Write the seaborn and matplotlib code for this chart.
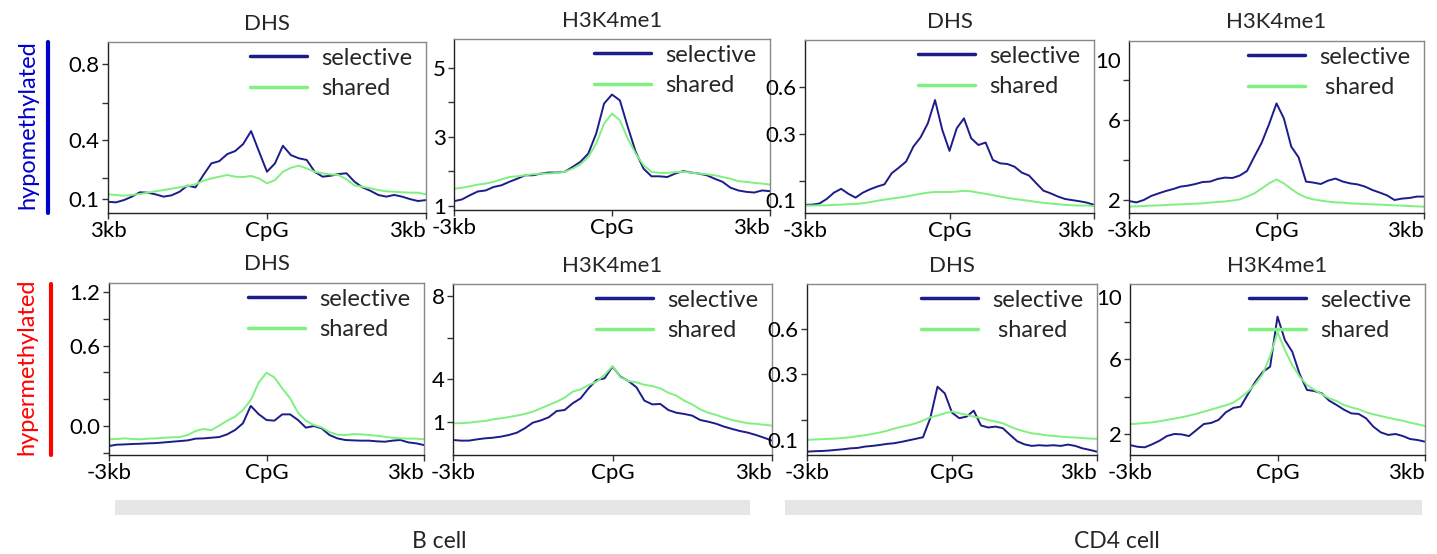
import numpy as np
import pandas as pd
import matplotlib
matplotlib.use("Agg")
import matplotlib.pyplot as plt
from matplotlib.lines import Line2D
from matplotlib.patches import Rectangle
import seaborn as sns

sns.set_style("ticks")
plt.rcParams["font.family"] = ["Lato", "DejaVu Sans"]

W, H = 1437, 554

# genomic position around CpG (bp), 41 bins from -3kb to +3kb
positions = np.linspace(-3000, 3000, 41)

# ---- B cell, hypomethylated ----
b_hypo_dhs_selective = [0.075, 0.072, 0.084, 0.102, 0.125, 0.123, 0.114, 0.102, 0.109, 0.128,
                        0.160, 0.151, 0.216, 0.277, 0.289, 0.326, 0.342, 0.379, 0.447, 0.339,
                        0.233, 0.277, 0.370, 0.321, 0.304, 0.295, 0.233, 0.207, 0.212, 0.221,
                        0.225, 0.181, 0.151, 0.133, 0.111, 0.102, 0.111, 0.102, 0.089, 0.079, 0.084]
b_hypo_dhs_shared = [0.114, 0.111, 0.107, 0.111, 0.116, 0.123, 0.130, 0.137, 0.144, 0.151,
                     0.158, 0.167, 0.186, 0.198, 0.207, 0.216, 0.207, 0.205, 0.211, 0.198,
                     0.172, 0.189, 0.233, 0.254, 0.265, 0.251, 0.233, 0.225, 0.219, 0.216,
                     0.193, 0.161, 0.154, 0.146, 0.137, 0.130, 0.128, 0.125, 0.123, 0.123, 0.114]
b_hypo_h3k4_selective = [1.14, 1.19, 1.31, 1.42, 1.45, 1.55, 1.60, 1.70, 1.79, 1.89,
                         1.89, 1.94, 1.97, 1.97, 1.99, 2.13, 2.28, 2.52, 3.10, 3.97,
                         4.23, 4.06, 3.29, 2.57, 2.08, 1.86, 1.86, 1.84, 1.94, 2.01,
                         1.97, 1.94, 1.89, 1.79, 1.70, 1.53, 1.45, 1.41, 1.39, 1.45, 1.43]
b_hypo_h3k4_shared = [1.50, 1.53, 1.57, 1.62, 1.65, 1.70, 1.77, 1.84, 1.86, 1.89,
                      1.92, 1.94, 1.94, 1.96, 1.99, 2.08, 2.21, 2.42, 2.81, 3.39,
                      3.68, 3.48, 2.95, 2.52, 2.18, 1.99, 1.96, 1.96, 1.98, 1.99,
                      1.97, 1.94, 1.92, 1.89, 1.84, 1.79, 1.72, 1.70, 1.67, 1.65, 1.62]

# ---- CD4 cell, hypomethylated ----
cd4_hypo_dhs_selective = [0.078, 0.079, 0.084, 0.104, 0.132, 0.149, 0.127, 0.110, 0.132, 0.147,
                          0.159, 0.169, 0.218, 0.243, 0.270, 0.336, 0.377, 0.439, 0.542, 0.410,
                          0.317, 0.417, 0.461, 0.373, 0.343, 0.354, 0.277, 0.262, 0.259, 0.247,
                          0.221, 0.208, 0.174, 0.141, 0.129, 0.115, 0.104, 0.099, 0.094, 0.088, 0.078]
cd4_hypo_dhs_shared = [0.075, 0.075, 0.076, 0.076, 0.078, 0.079, 0.081, 0.082, 0.085, 0.090,
                       0.096, 0.101, 0.106, 0.110, 0.115, 0.121, 0.127, 0.132, 0.135, 0.135,
                       0.135, 0.137, 0.140, 0.138, 0.132, 0.127, 0.121, 0.115, 0.109, 0.104,
                       0.100, 0.096, 0.091, 0.087, 0.084, 0.081, 0.078, 0.076, 0.075, 0.075, 0.073]
cd4_hypo_h3k4_selective = [1.95, 1.88, 2.00, 2.20, 2.33, 2.45, 2.55, 2.67, 2.72, 2.80,
                           2.90, 2.92, 3.05, 3.12, 3.10, 3.22, 3.45, 4.17, 4.87, 5.80,
                           6.83, 6.08, 4.67, 4.13, 2.92, 2.87, 2.80, 2.97, 3.07, 2.92,
                           2.83, 2.78, 2.67, 2.50, 2.37, 2.23, 2.00, 2.07, 2.10, 2.17, 2.17]
cd4_hypo_h3k4_shared = [1.67, 1.68, 1.70, 1.72, 1.73, 1.75, 1.77, 1.78, 1.80, 1.82,
                        1.83, 1.87, 1.90, 1.93, 1.97, 2.03, 2.17, 2.33, 2.58, 2.83,
                        3.03, 2.83, 2.55, 2.30, 2.13, 2.03, 1.97, 1.92, 1.88, 1.87,
                        1.83, 1.82, 1.80, 1.78, 1.77, 1.75, 1.73, 1.72, 1.70, 1.68, 1.67]

# ---- B cell, hypermethylated ----
b_hyper_dhs_selective = [0.051, 0.061, 0.063, 0.066, 0.068, 0.071, 0.073, 0.078, 0.083, 0.088,
                         0.093, 0.106, 0.108, 0.113, 0.118, 0.138, 0.170, 0.220, 0.350, 0.289,
                         0.245, 0.240, 0.287, 0.287, 0.245, 0.188, 0.200, 0.183, 0.133, 0.108,
                         0.096, 0.093, 0.091, 0.091, 0.086, 0.083, 0.091, 0.096, 0.078, 0.071, 0.058]
b_hyper_dhs_shared = [0.101, 0.103, 0.108, 0.103, 0.101, 0.106, 0.108, 0.113, 0.116, 0.118,
                      0.133, 0.163, 0.178, 0.170, 0.203, 0.240, 0.270, 0.319, 0.394, 0.523,
                      0.598, 0.563, 0.481, 0.407, 0.299, 0.240, 0.208, 0.190, 0.155, 0.135,
                      0.133, 0.140, 0.138, 0.133, 0.128, 0.120, 0.113, 0.108, 0.106, 0.106, 0.101]
b_hyper_h3k4_selective = [1.09, 1.06, 1.06, 1.12, 1.17, 1.20, 1.25, 1.33, 1.44, 1.65,
                          1.92, 2.03, 2.18, 2.48, 2.53, 2.85, 3.09, 3.57, 3.97, 4.05,
                          4.61, 4.13, 3.92, 3.62, 2.98, 2.80, 2.82, 2.53, 2.40, 2.34,
                          2.26, 2.05, 1.97, 1.87, 1.73, 1.62, 1.52, 1.44, 1.33, 1.20, 1.06]
b_hyper_h3k4_shared = [1.89, 1.90, 1.92, 1.97, 2.00, 2.08, 2.13, 2.19, 2.26, 2.34,
                       2.45, 2.61, 2.77, 2.93, 3.12, 3.41, 3.52, 3.73, 3.89, 4.21,
                       4.64, 4.10, 3.92, 3.86, 3.74, 3.68, 3.57, 3.36, 3.22, 2.98,
                       2.80, 2.56, 2.40, 2.29, 2.16, 2.05, 1.97, 1.89, 1.87, 1.82, 1.78]

# ---- CD4 cell, hypermethylated ----
cd4_hyper_dhs_selective = [0.047, 0.049, 0.050, 0.052, 0.055, 0.058, 0.062, 0.064, 0.070, 0.073,
                           0.077, 0.082, 0.085, 0.091, 0.098, 0.105, 0.112, 0.198, 0.340, 0.310,
                           0.223, 0.198, 0.205, 0.232, 0.165, 0.156, 0.160, 0.153, 0.123, 0.094,
                           0.080, 0.073, 0.076, 0.074, 0.076, 0.073, 0.079, 0.073, 0.062, 0.055, 0.047]
cd4_hyper_dhs_shared = [0.100, 0.102, 0.103, 0.105, 0.106, 0.109, 0.112, 0.117, 0.121, 0.127,
                        0.133, 0.141, 0.151, 0.159, 0.166, 0.175, 0.187, 0.202, 0.210, 0.220,
                        0.228, 0.220, 0.213, 0.205, 0.199, 0.190, 0.183, 0.175, 0.160, 0.148,
                        0.138, 0.130, 0.126, 0.121, 0.118, 0.115, 0.112, 0.111, 0.108, 0.106, 0.105]
cd4_hyper_h3k4_selective = [1.41, 1.32, 1.29, 1.45, 1.64, 1.89, 2.00, 1.98, 1.89, 2.21,
                            2.53, 2.59, 2.75, 3.16, 3.39, 3.46, 4.13, 4.79, 5.31, 5.59,
                            8.26, 7.01, 6.39, 5.20, 4.35, 4.29, 4.17, 3.78, 3.55, 3.30,
                            3.10, 3.07, 2.84, 2.39, 2.09, 1.95, 2.00, 1.89, 1.73, 1.68, 1.59]
cd4_hyper_h3k4_shared = [2.53, 2.55, 2.59, 2.62, 2.68, 2.75, 2.82, 2.89, 2.98, 3.08,
                         3.19, 3.30, 3.42, 3.53, 3.67, 3.94, 4.26, 4.67, 5.20, 6.16,
                         7.42, 6.48, 5.68, 5.06, 4.61, 4.35, 4.13, 3.90, 3.76, 3.55,
                         3.42, 3.32, 3.16, 3.05, 2.96, 2.87, 2.78, 2.71, 2.60, 2.52, 2.43]

panel_titles = ["DHS", "H3K4me1", "DHS", "H3K4me1"]
row_labels = ["hypomethylated", "hypermethylated"]
cell_labels = ["B cell", "CD4 cell"]

BLUE = "#1c1c8a"
GREEN = "#80f080"

panels = [
    dict(title=panel_titles[0], sel=b_hypo_dhs_selective, sh=b_hypo_dhs_shared,
         box=(108, 42, 426, 213), ylim=(0.016, 0.916),
         major=[0.0895, 0.4, 0.8], labels=["0.1", "0.4", "0.8"], minor=[0.2, 0.595], hide=[],
         xlabels=["3kb", "CpG", "3kb"], shlab="shared"),
    dict(title=panel_titles[1], sel=b_hypo_h3k4_selective, sh=b_hypo_h3k4_shared,
         box=(454, 39, 770, 210), ylim=(0.884, 5.84),
         major=[1, 3, 5], labels=["1", "3", "5"], minor=[2, 4], hide=[],
         xlabels=["-3kb", "CpG", "3kb"], shlab="shared"),
    dict(title=panel_titles[2], sel=cd4_hypo_dhs_selective, sh=cd4_hypo_dhs_shared,
         box=(805, 40, 1094, 213), ylim=(0.042, 0.808),
         major=[0.1, 0.392, 0.6], labels=["0.1", "0.3", "0.6"], minor=[0.184], hide=[0],
         xlabels=["-3kb", "CpG", "3kb"], shlab="shared"),
    dict(title=panel_titles[3], sel=cd4_hypo_h3k4_selective, sh=cd4_hypo_h3k4_shared,
         box=(1129, 41, 1424, 213), ylim=(1.35, 9.95),
         major=[2, 6, 9.0], labels=["2", "6", "10"], minor=[4, 8], hide=[2],
         xlabels=["-3kb", "CpG", "3kb"], shlab=" shared"),
    dict(title=panel_titles[0], sel=b_hyper_dhs_selective, sh=b_hyper_dhs_shared,
         box=(109, 283, 424, 455), ylim=(-0.016, 1.267),
         major=[0.2, 0.8, 1.2], labels=["0.0", "0.6", "1.2"], minor=[0.0, 0.4, 0.6, 1.0], hide=[],
         xlabels=["-3kb", "CpG", "3kb"], shlab="shared"),
    dict(title=panel_titles[1], sel=b_hyper_h3k4_selective, sh=b_hyper_h3k4_shared,
         box=(453, 284, 772, 455), ylim=(0.37, 8.58),
         major=[1.97, 4, 8], labels=["1", "4", "8"], minor=[6], hide=[],
         xlabels=["-3kb", "CpG", "3kb"], shlab="shared"),
    dict(title=panel_titles[2], sel=cd4_hyper_dhs_selective, sh=cd4_hyper_dhs_shared,
         box=(807, 284, 1097, 455), ylim=(0.032, 0.803),
         major=[0.1, 0.397, 0.6], labels=["0.1", "0.3", "0.6"], minor=[0.19], hide=[0],
         xlabels=["-3kb", "CpG", "3kb"], shlab=" shared"),
    dict(title=panel_titles[3], sel=cd4_hyper_h3k4_selective, sh=cd4_hyper_h3k4_shared,
         box=(1130, 284, 1425, 455), ylim=(0.88, 10.0),
         major=[2, 6, 9.3], labels=["2", "6", "10"], minor=[4, 8], hide=[2],
         xlabels=["-3kb", "CpG", "3kb"], shlab="shared"),
]

fig = plt.figure(figsize=(W / 100, H / 100), dpi=100)

for p in panels:
    l, t, r, b = p["box"]
    ax = fig.add_axes([l / W, 1 - b / H, (r - l) / W, (b - t) / H])
    df = pd.DataFrame({
        "pos": np.concatenate([positions, positions]),
        "signal": np.concatenate([p["sel"], p["sh"]]),
        "series": ["selective"] * len(positions) + [p["shlab"]] * len(positions),
    })
    sns.lineplot(data=df, x="pos", y="signal", hue="series",
                 hue_order=["selective", p["shlab"]], palette=[BLUE, GREEN],
                 ax=ax, lw=1.4, legend=True)
    ax.set_xlim(-3000, 3000)
    ax.set_ylim(*p["ylim"])
    ax.set_xticks([-3000, 0, 3000])
    ax.set_xticklabels(p["xlabels"])
    xt = ax.get_xticklabels()
    xt[0].set_horizontalalignment("center")
    xt[2].set_horizontalalignment("right")
    ax.set_yticks(p["major"])
    ax.set_yticklabels(p["labels"])
    ax.set_yticks(p["minor"], minor=True)
    ax.set_xlabel("")
    ax.set_ylabel("")
    ax.set_title(p["title"], fontsize=16, pad=9)
    ax.tick_params(axis="y", which="both", direction="out", length=4, width=1,
                   labelsize=16, pad=2, left=True, colors="#333333", labelcolor="black")
    ax.tick_params(axis="x", which="both", direction="out", length=4, width=1,
                   labelsize=16, pad=2, bottom=True, colors="#333333", labelcolor="black")
    for i in p["hide"]:
        ax.yaxis.get_major_ticks()[i].tick1line.set_visible(False)
    for s in ["top", "right"]:
        ax.spines[s].set_visible(True)
        ax.spines[s].set_color("#888888")
        ax.spines[s].set_linewidth(1.0)
    for s in ["left", "bottom"]:
        ax.spines[s].set_color("#222222")
        ax.spines[s].set_linewidth(1.0)
    handles, labels = ax.get_legend_handles_labels()
    leg = ax.legend(handles, labels, loc="upper right", bbox_to_anchor=(1.0, 1.05),
                    frameon=False, fontsize=17, handlelength=2.4, handletextpad=0.6,
                    labelspacing=0.4, borderaxespad=0.2)
    for ln in leg.get_lines():
        ln.set_linewidth(2.5)

# row labels with coloured bars
fig.text(28 / W, 1 - 125 / H, row_labels[0], rotation=90, ha="center", va="center",
         color="#0000cc", fontsize=17)
fig.add_artist(Line2D([48 / W, 48 / W], [1 - 42 / H, 1 - 213 / H], color="#0000cc", lw=3))
fig.text(27 / W, 1 - 367 / H, row_labels[1], rotation=90, ha="center", va="center",
         color="#ff0000", fontsize=17)
fig.add_artist(Line2D([51 / W, 51 / W], [1 - 284 / H, 1 - 455 / H], color="#ff0000", lw=3))

# cell type bars
fig.add_artist(Rectangle((115 / W, 1 - 515 / H), (750 - 115) / W, 15 / H,
                         color="#e6e6e6", lw=0))
fig.add_artist(Rectangle((785 / W, 1 - 515 / H), (1422 - 785) / W, 15 / H,
                         color="#e6e6e6", lw=0))
fig.text(439 / W, 1 - 541 / H, cell_labels[0], ha="center", va="center", fontsize=16.5)
fig.text(1117 / W, 1 - 541 / H, cell_labels[1], ha="center", va="center", fontsize=16.5)

fig.savefig("out.png", dpi=100)
